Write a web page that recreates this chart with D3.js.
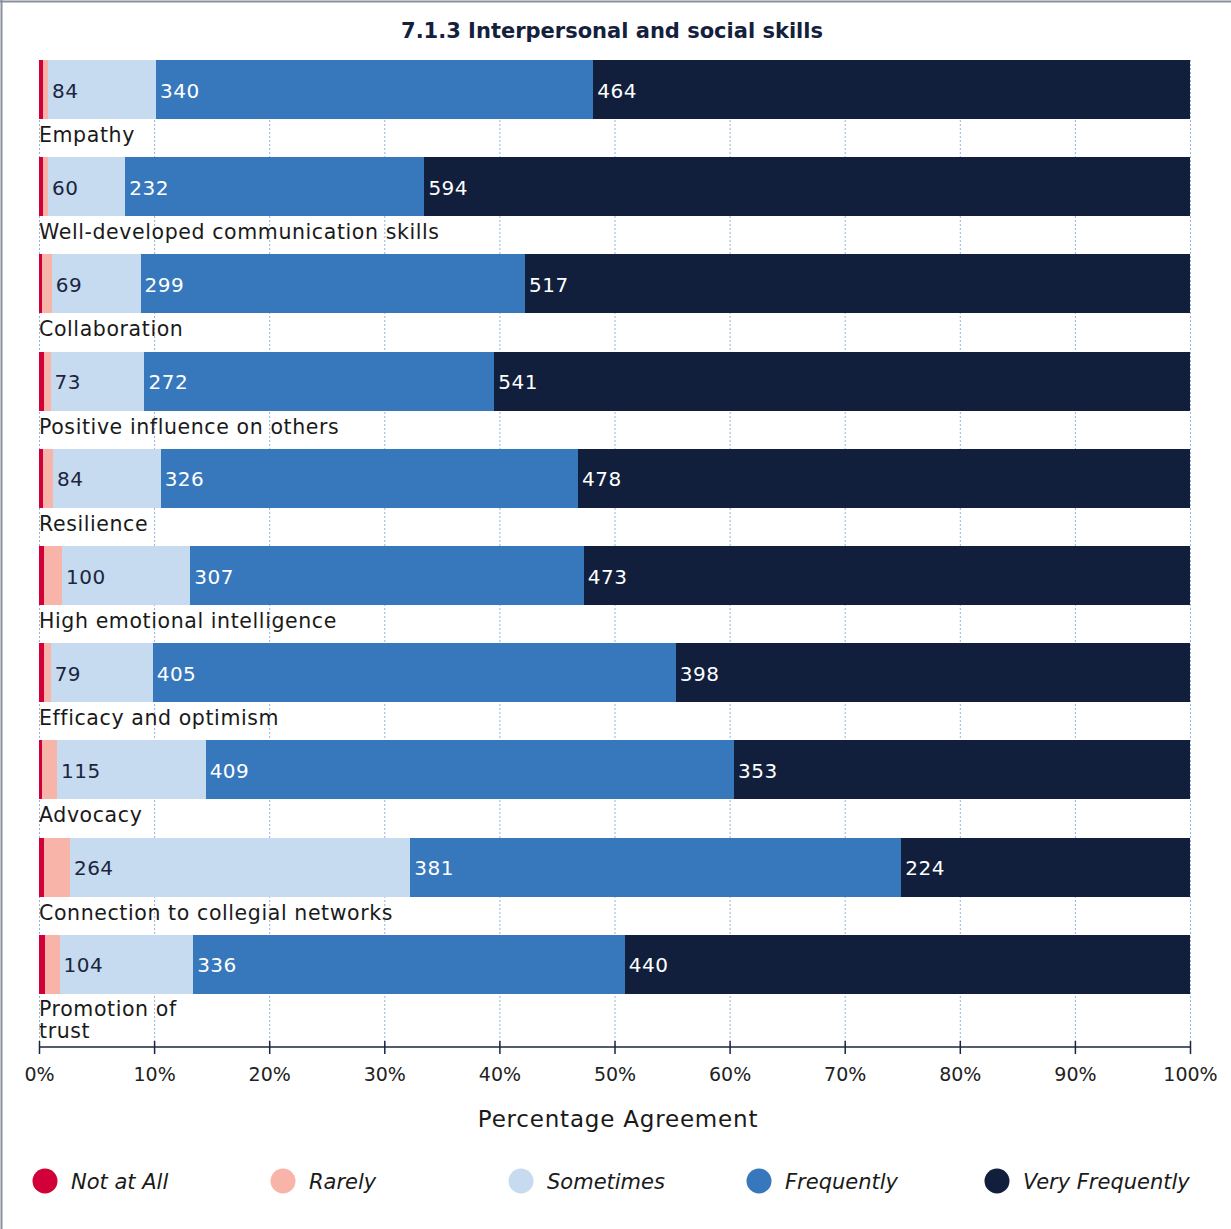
<!DOCTYPE html>
<html><head><meta charset="utf-8">
<script src="https://cdn.jsdelivr.net/npm/d3@7"></script>
<style>
body{margin:0;background:#fff;}
svg{display:block;font-family:"DejaVu Sans",sans-serif;}
</style></head>
<body><svg id="chart" width="1231" height="1229"></svg>
<script>
const title = "7.1.3 Interpersonal and social skills";
const categories = ["Empathy","Well-developed communication skills","Collaboration","Positive influence on others","Resilience","High emotional intelligence","Efficacy and optimism","Advocacy","Connection to collegial networks","Promotion of trust"];
const seriesNames = ["Not at All","Rarely","Sometimes","Frequently","Very Frequently"];
const notAtAll       = [3, 3, 2, 4, 3, 4, 4, 2, 4, 5];
const rarely         = [4, 4, 8, 5, 8, 14, 5, 12, 20, 11];
const sometimes      = [84, 60, 69, 73, 84, 100, 79, 115, 264, 104];
const frequently     = [340, 232, 299, 272, 326, 307, 405, 409, 381, 336];
const veryFrequently = [464, 594, 517, 541, 478, 473, 398, 353, 224, 440];
const colors = ["#d10038","#f8b4a9","#c6dbef","#3778bc","#111f3c"];
const labelColors = [null, null, "#1b2540", "#ffffff", "#ffffff"];
const tickValues = [0,10,20,30,40,50,60,70,80,90,100];
const xTitle = "Percentage Agreement";

(function(){
const series = [notAtAll, rarely, sometimes, frequently, veryFrequently];
const rows = categories.map((c,i)=>{
  const vals = series.map(s=>s[i]);
  const total = d3.sum(vals);
  let acc = 0;
  const segs = vals.map((v,k)=>{ const s={k, v, x0: acc/total*100, x1:(acc+v)/total*100}; acc+=v; return s;});
  return {cat:c, segs};
});

const svg = d3.select("#chart");
const W=1231, H=1229;
const mLeft=39, mRight=1190, mTop=60, axisY=1047;

svg.append("line").attr("x1",0).attr("x2",W).attr("y1",1.5).attr("y2",1.5).attr("stroke","#8a8f9c").attr("stroke-width",2);
svg.append("line").attr("x1",1.5).attr("x2",1.5).attr("y1",0).attr("y2",H).attr("stroke","#8a8f9c").attr("stroke-width",2);

svg.append("text").attr("x",612).attr("y",38).attr("text-anchor","middle")
  .attr("font-size",21).attr("font-weight",700).attr("fill","#14213d").text(title);

const x = d3.scaleLinear().domain([0,100]).range([mLeft,mRight]);
const y = d3.scaleBand().domain(categories).range([mTop, mTop+97.2*10]).paddingInner(0).paddingOuter(0);
const barH = 59;

svg.append("g").selectAll("line").data(tickValues).join("line")
  .attr("x1",d=>x(d)+0.5).attr("x2",d=>x(d)+0.5).attr("y1",mTop).attr("y2",axisY)
  .attr("stroke","#8fb4dd").attr("stroke-width",1).attr("stroke-dasharray","2,2");

const g = svg.append("g").selectAll("g").data(rows).join("g")
  .attr("transform",d=>`translate(0,${y(d.cat)})`);

g.selectAll("rect").data(d=>d.segs).join("rect")
  .attr("x",d=>x(d.x0)).attr("width",d=>x(d.x1)-x(d.x0)).attr("y",0).attr("height",barH)
  .attr("fill",d=>colors[d.k]).attr("shape-rendering","crispEdges");

g.selectAll("text.val").data(d=>d.segs.filter(s=>s.k>=2)).join("text").attr("class","val")
  .attr("x",d=>x(d.x0)+4).attr("y",barH/2+8).attr("font-size",20).attr("letter-spacing",0.5)
  .attr("fill",d=>labelColors[d.k]).text(d=>d.v);

g.append("text").attr("x",mLeft).attr("y",barH+23).attr("font-size",20.5).attr("letter-spacing",0.6).attr("fill","#1a1a1a")
  .each(function(d){
    const t=d3.select(this);
    if(d.cat==="Promotion of trust"){
      t.append("tspan").attr("x",mLeft).attr("y",barH+22).text("Promotion of");
      t.append("tspan").attr("x",mLeft).attr("y",barH+44).text("trust");
    } else t.text(d.cat);
  });

const axis = svg.append("g").attr("transform",`translate(0,${axisY})`)
  .call(d3.axisBottom(x).tickValues(tickValues).tickFormat(d=>d+"%").tickSize(7).tickPadding(14));
axis.select(".domain").attr("stroke","#1b2540").attr("stroke-width",1.5).attr("d",`M${mLeft},0H${mRight}`);
axis.selectAll(".tick line").attr("stroke","#1b2540").attr("stroke-width",1.5).attr("y1",-6).attr("y2",7);
axis.selectAll(".tick text").attr("font-size",19).attr("fill","#222").attr("font-family","'DejaVu Sans',sans-serif");

svg.append("text").attr("x",618).attr("y",1127).attr("text-anchor","middle").attr("font-size",23).attr("letter-spacing",0.8).attr("fill","#1a1a1a").text(xTitle);

const lg = svg.append("g").selectAll("g").data(seriesNames).join("g")
  .attr("transform",(d,i)=>`translate(${45+i*238},1181)`);
lg.append("circle").attr("r",12.5).attr("fill",(d,i)=>colors[i]);
lg.append("text").attr("x",26).attr("y",8).attr("font-size",21).attr("font-style","italic").attr("fill","#1a1a1a").text(d=>d);
})();
</script></body></html>
